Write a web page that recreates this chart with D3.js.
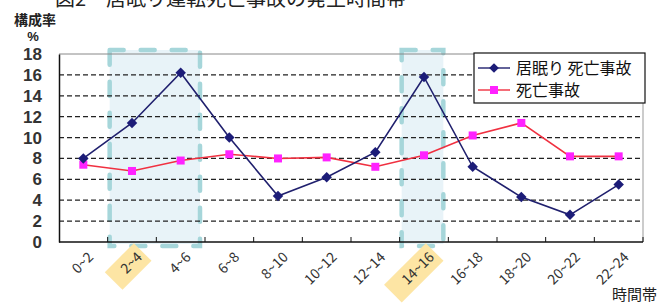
<!DOCTYPE html>
<html>
<head>
<meta charset="utf-8">
<script src="https://cdn.jsdelivr.net/npm/d3@7"></script>
<style>
body { margin: 0; background: #fff; }
text { font-family: "Noto Sans CJK JP", "DejaVu Sans", sans-serif; }
</style>
</head>
<body>
<div class="canvas"></div>
<script>
const categories = ['0~2', '2~4', '4~6', '6~8', '8~10', '10~12', '12~14', '14~16', '16~18', '18~20', '20~22', '22~24'];
const dozingFatal = [8.0, 11.4, 16.2, 10.0, 4.4, 6.2, 8.6, 15.8, 7.2, 4.3, 2.6, 5.5];
const allFatal = [7.4, 6.8, 7.8, 8.4, 8.0, 8.1, 7.2, 8.3, 10.2, 11.4, 8.2, 8.2];
const yTicks = [0, 2, 4, 6, 8, 10, 12, 14, 16, 18];
const highlightGroups = [['2~4', '4~6'], ['14~16']];
const highlightLabels = ['2~4', '14~16'];
const seriesNames = ['居眠り 死亡事故', '死亡事故'];

const svg = d3.select('.canvas').append('svg')
	.attr('width', 670)
	.attr('height', 305);

const margins = {top: 54, right: 27, bottom: 63, left: 59};
const graphWidth = 670 - margins.left - margins.right;
const graphHeight = 305 - margins.top - margins.bottom;

const x = d3.scaleBand()
	.domain(categories)
	.range([0, graphWidth]);

const y = d3.scaleLinear()
	.domain([0, 18])
	.range([graphHeight, 0]);

// title, cut off at the top like the source scan
svg.append('text')
	.attr('x', 55)
	.attr('y', 6)
	.attr('font-size', 20)
	.attr('fill', '#222')
	.text('図2　居眠り運転死亡事故の発生時間帯');

svg.append('text')
	.attr('x', 35)
	.attr('y', 25)
	.attr('text-anchor', 'middle')
	.attr('font-size', 14)
	.attr('font-weight', 'bold')
	.attr('fill', '#222')
	.text('構成率');
svg.append('text')
	.attr('x', 33)
	.attr('y', 41)
	.attr('text-anchor', 'middle')
	.attr('font-size', 13)
	.attr('font-weight', 'bold')
	.attr('fill', '#222')
	.style('font-family', 'Liberation Sans, Arial, sans-serif')
	.text('%');

const graph = svg.append('g')
	.attr('transform', `translate(${margins.left}, ${margins.top})`);

// highlighted time bands
highlightGroups.forEach(g => {
	const x0 = x(g[0]) + 2;
	const x1 = x(g[g.length - 1]) + x.bandwidth() - 5;
	graph.append('rect')
		.attr('x', x0)
		.attr('y', -4)
		.attr('width', x1 - x0)
		.attr('height', graphHeight + 6)
		.attr('fill', '#e8f3f8');
	graph.append('rect')
		.attr('x', x0)
		.attr('y', -4)
		.attr('width', x1 - x0)
		.attr('height', graphHeight + 8)
		.attr('fill', 'none')
		.attr('stroke', '#a6d6da')
		.attr('stroke-width', 4.5)
		.attr('stroke-linecap', 'round')
		.attr('stroke-dasharray', '14 17');
});

// grid
graph.selectAll('.grid')
	.data(yTicks.filter(d => d > 0 && d < 18))
	.enter().append('line')
	.attr('x1', 0)
	.attr('x2', graphWidth)
	.attr('y1', d => y(d))
	.attr('y2', d => y(d))
	.attr('stroke', '#222')
	.attr('stroke-width', 1.3)
	.attr('stroke-dasharray', '5 3');

// frame top / right
graph.append('line')
	.attr('x1', 0).attr('x2', graphWidth)
	.attr('y1', y(18)).attr('y2', y(18))
	.attr('stroke', '#888');
graph.append('line')
	.attr('x1', graphWidth).attr('x2', graphWidth)
	.attr('y1', y(18)).attr('y2', graphHeight)
	.attr('stroke', '#999');

// axes
const yAxis = d3.axisLeft(y).tickValues(yTicks).tickSize(0).tickPadding(17);
const yAxisGroup = graph.append('g').call(yAxis);
yAxisGroup.select('.domain').attr('stroke', '#111').attr('stroke-width', 1.5);
yAxisGroup.selectAll('text')
	.attr('font-size', 17)
	.attr('font-weight', 'bold')
	.attr('fill', '#333')
	.style('font-family', 'Liberation Sans, Arial, sans-serif');

const xAxisGroup = graph.append('g')
	.attr('transform', `translate(0, ${graphHeight})`);
xAxisGroup.append('line')
	.attr('x1', 0).attr('x2', graphWidth)
	.attr('stroke', '#111').attr('stroke-width', 1.5);
xAxisGroup.selectAll('.tk')
	.data(categories.slice(1).concat(['end']))
	.enter().append('line')
	.attr('x1', d => d === 'end' ? graphWidth : x(d))
	.attr('x2', d => d === 'end' ? graphWidth : x(d))
	.attr('y1', -5).attr('y2', 0)
	.attr('stroke', '#111');

const labels = xAxisGroup.selectAll('.lbl')
	.data(categories)
	.enter().append('g')
	.attr('transform', d => `translate(${x(d) + x.bandwidth() / 2 + 11}, 16) rotate(-45)`);
labels.filter(d => highlightLabels.includes(d))
	.append('rect')
	.attr('x', d => -d.length * 9 - 10)
	.attr('y', -17)
	.attr('width', d => d.length * 9 + 14)
	.attr('height', 25)
	.attr('fill', '#fde5a4');
labels.append('text')
	.attr('text-anchor', 'end')
	.attr('font-size', 14)
	.attr('fill', '#333')
	.text(d => d);

svg.append('text')
	.attr('x', 612)
	.attr('y', 300)
	.attr('font-size', 15)
	.attr('fill', '#222')
	.text('時間帯');

// lines
const line = vals => d3.line()
	.x((d, i) => x(categories[i]) + x.bandwidth() / 2)
	.y(d => y(d))(vals);

graph.append('path')
	.attr('d', line(allFatal))
	.attr('fill', 'none')
	.attr('stroke', '#f03040')
	.attr('stroke-width', 1.6);
graph.append('path')
	.attr('d', line(dozingFatal))
	.attr('fill', 'none')
	.attr('stroke', '#20206e')
	.attr('stroke-width', 1.6);

graph.selectAll('.sq')
	.data(allFatal)
	.enter().append('rect')
	.attr('x', (d, i) => x(categories[i]) + x.bandwidth() / 2 - 4)
	.attr('y', d => y(d) - 4)
	.attr('width', 8).attr('height', 8)
	.attr('fill', '#ff22ff');
graph.selectAll('.dm')
	.data(dozingFatal)
	.enter().append('path')
	.attr('d', d3.symbol(d3.symbolDiamond2, 70))
	.attr('transform', (d, i) => `translate(${x(categories[i]) + x.bandwidth() / 2}, ${y(d)})`)
	.attr('fill', '#1c1c78');

// legend
const legend = svg.append('g').attr('transform', 'translate(474, 53)');
legend.append('rect')
	.attr('width', 171).attr('height', 50)
	.attr('fill', '#fff').attr('stroke', '#111').attr('stroke-width', 1.2);
const legendColors = [['#20206e', '#1c1c78'], ['#f03040', '#ff22ff']];
seriesNames.forEach((name, i) => {
	const row = legend.append('g').attr('transform', `translate(0, ${15 + i * 22})`);
	row.append('line').attr('x1', 4).attr('x2', 36)
		.attr('stroke', legendColors[i][0]).attr('stroke-width', 1.4);
	if (i === 0) {
		row.append('path').attr('d', d3.symbol(d3.symbolDiamond2, 60))
			.attr('transform', 'translate(20, 0)').attr('fill', legendColors[i][1]);
	} else {
		row.append('rect').attr('x', 16).attr('y', -4).attr('width', 8).attr('height', 8)
			.attr('fill', legendColors[i][1]);
	}
	row.append('text')
		.attr('x', 42).attr('y', 6)
		.attr('font-size', 16)
		.attr('fill', '#111')
		.text(name);
});
</script>
</body>
</html>
